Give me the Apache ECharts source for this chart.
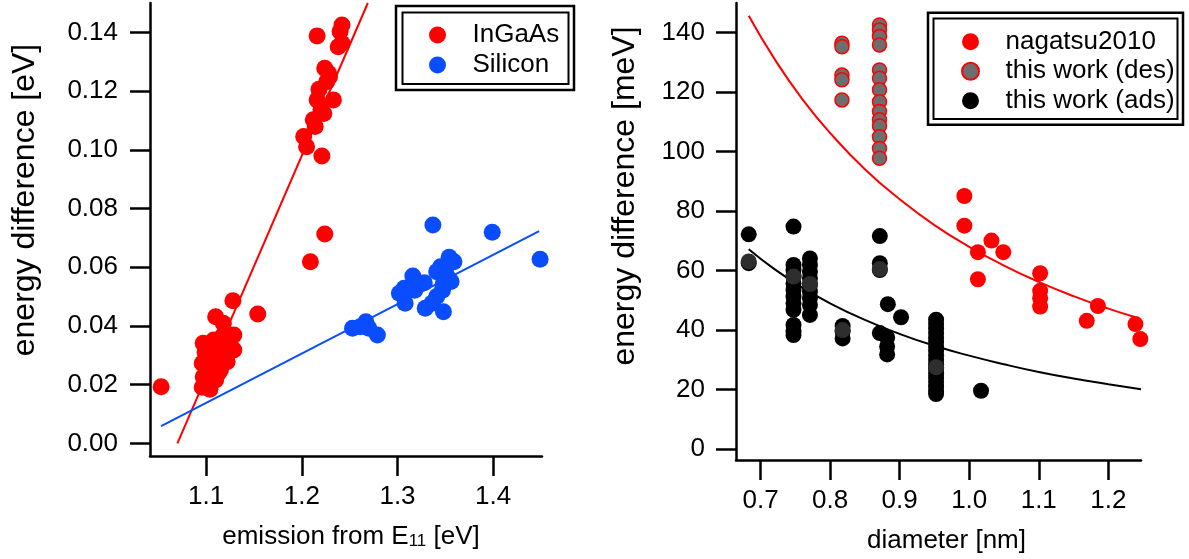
<!DOCTYPE html>
<html><head><meta charset="utf-8">
<script src="https://cdn.jsdelivr.net/npm/echarts@6/dist/echarts.min.js"></script>
<style>html,body{margin:0;padding:0;background:#fff}#c{width:1189px;height:559px}</style>
</head><body><div id="c"></div>
<script>
// ---------- Left panel data ----------
const ingaasX = [1.242,1.240,1.216,1.242,1.238,1.224,1.228,1.229,1.226,1.218,1.233,1.216,1.220,1.223,1.212,1.214,1.202,1.205,1.221,
  1.224,1.209,1.128,1.154,1.110,1.053,
  1.118,1.129,1.129,1.097,1.096,1.115,1.097,1.096,1.104,1.122,1.118,1.108,1.110,1.104,1.115,1.123,1.101,1.110,1.102,1.120,1.106,1.126,1.113,1.099];
const ingaasY = [0.1425,0.1403,0.1388,0.1363,0.1351,0.1278,0.1261,0.1249,0.1232,0.1206,0.1170,0.1170,0.1136,0.1124,0.1102,0.1079,0.1045,0.1010,0.0979,
  0.0713,0.0619,0.0486,0.0441,0.0431,0.0193,
  0.0409,0.0369,0.0318,0.0341,0.0273,0.0250,0.0227,0.0191,0.0184,0.0278,0.0369,0.0352,0.0307,0.0307,0.0329,0.0352,0.0261,0.0216,0.0216,0.0300,0.0290,0.0330,0.0240,0.0310];
const siliconX = [1.337,1.399,1.449,1.354,1.359,1.345,1.341,1.352,1.316,1.356,1.328,1.307,1.302,1.318,1.347,1.341,1.308,1.329,1.348,1.336,
  1.253,1.267,1.270,1.279,1.261,1.352,1.348];
const siliconY = [0.0744,0.0719,0.0627,0.0634,0.0619,0.0602,0.0585,0.0568,0.0570,0.0551,0.0547,0.0528,0.0511,0.0522,0.0522,0.0500,0.0477,0.0460,0.0448,0.0477,
  0.0392,0.0414,0.0392,0.0369,0.0397,0.0607,0.0545];
const ingaasFitX = [1.070, 1.269];
const ingaasFitY = [0.000, 0.150];
const siliconFitX = [1.053, 1.448];
const siliconFitY = [0.0059, 0.0723];
const leftXTicks = [1.1, 1.2, 1.3, 1.4];
const leftYTicks = [0, 0.02, 0.04, 0.06, 0.08, 0.10, 0.12, 0.14];

// ---------- Right panel data ----------
const nagatsuD = [0.993,0.993,1.032,1.0125,1.049,1.0125,1.102,1.102,1.102,1.102,1.185,1.169,1.239,1.246];
const nagatsuE = [85.1,75.1,70.1,66.2,66.2,57.1,59.1,53.2,50.7,47.9,48.1,43.1,42.0,37.0];
const desD = [0.817,0.817,0.817,0.817,0.817,
  0.871,0.871,0.871,0.871,0.871,0.871,0.871,0.871,0.871,0.871,0.871,0.871,0.871,0.871];
const desE = [136.5,135.3,125.8,124.2,117.4,
  142.6,140.9,138.7,135.9,127.5,124.7,120.8,116.8,113.5,110.7,108.6,105.0,101.1,97.8];
const adsD = [0.683,0.683,
  0.7474,0.7474,0.7474,0.7474,0.7474,0.7474,0.7474,0.7474,0.7474,0.7474,0.7474,0.7474,
  0.771,0.771,0.771,0.771,0.771,0.771,0.771,0.771,0.771,
  0.818,0.818,0.818,
  0.8715,0.8715,0.8715,0.8715,0.882,0.882,0.882,0.883,0.902,
  0.9524,0.9524,0.9524,0.9524,0.9524,0.9524,0.9524,0.9524,0.9524,0.9524,0.9524,0.9524,0.9524,0.9524,0.9524,0.9524,0.9524,0.9524,
  1.017];
const adsE = [72.2,62.5,
  74.8,61.9,60.2,58.0,55.7,53.5,51.2,49.0,46.8,41.7,39.5,38.3,
  64.1,61.9,59.6,57.4,55.2,52.9,50.7,48.4,45.1,
  41.4,39.5,37.2,
  71.6,62.5,60.2,39.0,37.5,34.5,31.8,48.7,44.3,
  43.5,42.0,40.5,39.0,37.5,36.0,34.5,33.0,31.5,30.0,28.5,27.0,25.5,24.0,22.5,21.0,19.5,18.5,
  19.6];
const adsDarkD = [0.683,0.7474,0.771,0.818,0.8715,0.9524];
const adsDarkE = [63.1,58.0,55.5,40.0,60.5,27.5];
const nagatsuFitD = [0.683,0.72,0.76,0.80,0.85,0.90,0.95,1.00,1.05,1.10,1.15,1.20,1.238];
const nagatsuFitE = [145.7,131.2,117.7,106.3,94.1,84.0,75.3,68.0,61.7,56.2,51.4,47.2,44.4];
const adsFitD = [0.683,0.72,0.76,0.80,0.85,0.90,0.95,1.00,1.05,1.10,1.15,1.20,1.247];
const adsFitE = [67.2,60.5,54.3,49.0,43.4,38.7,34.7,31.4,28.5,25.9,23.7,21.8,20.1];
const rightXTicks = [0.7, 0.8, 0.9, 1.0, 1.1, 1.2];
const rightYTicks = [0, 20, 40, 60, 80, 100, 120, 140];

const zip = (a, b) => a.map((v, i) => [v, b[i]]);
const FONT = 'Liberation Sans';
const RED = '#ff0000', BLUE = '#0a4dff';

function axis(o) {
  return Object.assign({
    type: 'value',
    axisLine: { show: true, onZero: false, lineStyle: { color: '#000', width: 2.5 } },
    axisTick: { show: true, inside: false, length: 20, lineStyle: { color: '#000', width: 2.5 }, customValues: o.ticks },
    axisLabel: { color: '#000', fontSize: 26, fontFamily: FONT, margin: o.margin, customValues: o.ticks, formatter: o.fmt },
    splitLine: { show: false },
    nameLocation: 'middle',
    nameTextStyle: Object.assign({ color: '#000', fontSize: 26, fontFamily: FONT }, o.nameStyle || {})
  }, o.extra);
}

const chart = echarts.init(document.getElementById('c'), null, { renderer: 'canvas' });
chart.setOption({
  animation: false,
  backgroundColor: '#fff',
  grid: [
    { left: 150, top: 3, width: 392, height: 453 },
    { left: 736, top: 3, width: 405, height: 457 }
  ],
  xAxis: [
    axis({ ticks: leftXTicks, margin: 28, fmt: v => v.toFixed(1),
      extra: { gridIndex: 0, min: 1.0414, max: 1.451, name: '{a|emission from E}{s|11}{a| [eV]}', nameGap: 68 },
      nameStyle: { padding: [0, 0, 0, 10], rich: { a: { fontSize: 26, fontFamily: FONT, color: '#000', lineHeight: 26 }, s: { fontSize: 17, fontFamily: FONT, color: '#000', lineHeight: 10, verticalAlign: 'bottom' } } } }),
    axis({ ticks: rightXTicks, margin: 28, fmt: v => v.toFixed(1),
      nameStyle: { padding: [0, 0, 0, 16] },
      extra: { gridIndex: 1, min: 0.6647, max: 1.247, name: 'diameter [nm]', nameGap: 68 } })
  ],
  yAxis: [
    axis({ ticks: leftYTicks, margin: 32, fmt: v => v.toFixed(2),
      nameStyle: { fontSize: 32, padding: [0, 0, 0, 59] },
      extra: { gridIndex: 0, min: -0.0043, max: 0.150, name: 'energy difference [eV]', nameGap: 109 } }),
    axis({ ticks: rightYTicks, margin: 31, fmt: v => String(Math.round(v)),
      nameStyle: { fontSize: 32, padding: [0, 0, 0, 71] },
      extra: { gridIndex: 1, min: -3.7, max: 150, name: 'energy difference [meV]', nameGap: 95 } })
  ],
  legend: [
    { data: ['InGaAs', 'Silicon'], orient: 'vertical', left: 424, top: 15, itemWidth: 60, itemHeight: 17, itemGap: 0, icon: 'circle',
      textStyle: { fontSize: 26, fontFamily: FONT, color: '#000', lineHeight: 30 }, selectedMode: false },
    { data: ['nagatsu2010', 'this work (des)', 'this work (ads)'], orient: 'vertical', left: 956, top: 22, itemWidth: 60, itemHeight: 17, itemGap: 0, icon: 'circle',
      textStyle: { fontSize: 26, fontFamily: FONT, color: '#000', lineHeight: 29.5 }, selectedMode: false }
  ],
  graphic: [
    { type: 'rect', z: 100, shape: { x: 396, y: 6, width: 178, height: 84 }, style: { fill: 'none', stroke: '#000', lineWidth: 2.5 } },
    { type: 'rect', z: 100, shape: { x: 402.5, y: 12.5, width: 166, height: 71.5 }, style: { fill: 'none', stroke: '#000', lineWidth: 2 } },
    { type: 'rect', z: 100, shape: { x: 928, y: 12.7, width: 255, height: 112 }, style: { fill: 'none', stroke: '#000', lineWidth: 2.5 } },
    { type: 'rect', z: 100, shape: { x: 933.5, y: 18.5, width: 244, height: 100.5 }, style: { fill: 'none', stroke: '#000', lineWidth: 2 } }
  ],
  series: [
    { name: 'InGaAs fit', type: 'line', xAxisIndex: 0, yAxisIndex: 0, data: zip(ingaasFitX, ingaasFitY), showSymbol: false, lineStyle: { color: RED, width: 2 }, z: 2 },
    { name: 'Silicon fit', type: 'line', xAxisIndex: 0, yAxisIndex: 0, data: zip(siliconFitX, siliconFitY), showSymbol: false, lineStyle: { color: BLUE, width: 2 }, z: 2 },
    { name: 'InGaAs', type: 'scatter', xAxisIndex: 0, yAxisIndex: 0, data: zip(ingaasX, ingaasY), symbolSize: 17, itemStyle: { color: RED, opacity: 1 }, clip: false, z: 3 },
    { name: 'Silicon', type: 'scatter', xAxisIndex: 0, yAxisIndex: 0, data: zip(siliconX, siliconY), symbolSize: 17, itemStyle: { color: BLUE, opacity: 1 }, clip: false, z: 3 },
    { name: 'nagatsu fit', type: 'line', xAxisIndex: 1, yAxisIndex: 1, data: zip(nagatsuFitD, nagatsuFitE), smooth: true, showSymbol: false, lineStyle: { color: RED, width: 2 }, z: 2 },
    { name: 'ads fit', type: 'line', xAxisIndex: 1, yAxisIndex: 1, data: zip(adsFitD, adsFitE), smooth: true, showSymbol: false, lineStyle: { color: '#000', width: 2 }, z: 2 },
    { name: 'nagatsu2010', type: 'scatter', xAxisIndex: 1, yAxisIndex: 1, data: zip(nagatsuD, nagatsuE), symbolSize: 16, itemStyle: { color: RED, opacity: 1 }, clip: false, z: 3 },
    { name: 'this work (des)', type: 'scatter', xAxisIndex: 1, yAxisIndex: 1, data: zip(desD, desE), symbolSize: 14, itemStyle: { color: '#6e6e6e', borderColor: RED, borderWidth: 1.5, opacity: 1 }, clip: false, z: 3 },
    { name: 'this work (ads)', type: 'scatter', xAxisIndex: 1, yAxisIndex: 1, data: zip(adsD, adsE), symbolSize: 16, itemStyle: { color: '#000', opacity: 1 }, clip: false, z: 3 },
    { name: 'ads overlap', type: 'scatter', xAxisIndex: 1, yAxisIndex: 1, data: zip(adsDarkD, adsDarkE), symbolSize: 16, itemStyle: { color: '#2e2e2e', opacity: 1 }, clip: false, z: 4 }
  ]
});
</script></body></html>
